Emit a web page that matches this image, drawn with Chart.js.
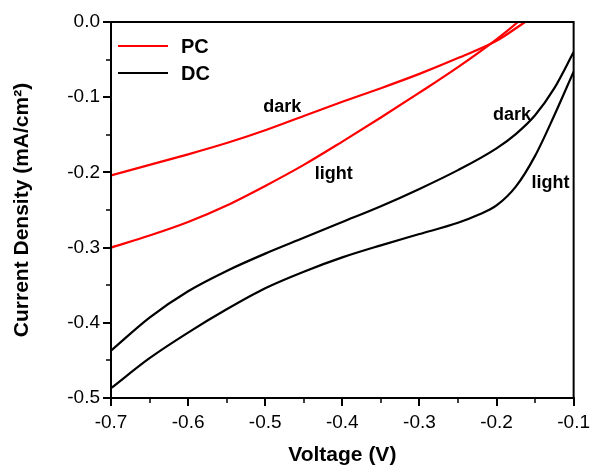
<!DOCTYPE html>
<html>
<head>
<meta charset="utf-8">
<script src="https://cdn.jsdelivr.net/npm/chart.js@4.4.1/dist/chart.umd.min.js"></script>
<style>
  html, body { margin: 0; padding: 0; background: #fff; }
  #wrap { width: 595px; height: 468px; }
</style>
</head>
<body>
<div id="wrap"><canvas id="jv"></canvas></div>
<script>
// voltage (V) and current density (mA/cm2)
var pcDarkV  = [-0.7, -0.65, -0.6, -0.55, -0.5, -0.45, -0.4, -0.35, -0.3, -0.25, -0.2, -0.163];
var pcDarkI  = [-0.204, -0.190, -0.176, -0.161, -0.144, -0.125, -0.106, -0.088, -0.069, -0.048, -0.025, 0.0];
var pcLightV = [-0.7, -0.65, -0.6, -0.55, -0.5, -0.45, -0.4, -0.35, -0.3, -0.25, -0.2, -0.172];
var pcLightI = [-0.300, -0.284, -0.266, -0.244, -0.218, -0.190, -0.159, -0.127, -0.094, -0.060, -0.023, 0.0];
var dcDarkV  = [-0.7, -0.65, -0.6, -0.55, -0.5, -0.45, -0.4, -0.35, -0.3, -0.25, -0.2, -0.175, -0.15, -0.125, -0.1];
var dcDarkI  = [-0.437, -0.393, -0.358, -0.331, -0.308, -0.287, -0.266, -0.245, -0.222, -0.197, -0.168, -0.149, -0.124, -0.088, -0.040];
var dcLightV = [-0.7, -0.65, -0.6, -0.55, -0.5, -0.45, -0.4, -0.35, -0.3, -0.25, -0.225, -0.2, -0.175, -0.15, -0.125, -0.1];
var dcLightI = [-0.487, -0.447, -0.413, -0.382, -0.354, -0.332, -0.313, -0.297, -0.282, -0.267, -0.257, -0.244, -0.219, -0.178, -0.124, -0.066];

var legendNames = ["PC", "DC"];
var curveLabels = [   // text, voltage, current
  ["dark", -0.478, -0.113],
  ["light", -0.411, -0.202],
  ["dark", -0.180, -0.124],
  ["light", -0.130, -0.214]
];

function pts(xs, ys) {
  return xs.map(function (x, i) { return { x: x, y: ys[i] }; });
}

function line(label, xs, ys, color) {
  return {
    label: label,
    data: pts(xs, ys),
    borderColor: color,
    borderWidth: 2.2,
    pointRadius: 0,
    cubicInterpolationMode: 'monotone',
    fill: false
  };
}

// frame, minor ticks, legend and curve labels
var decor = {
  id: 'decor',
  afterDraw: function (chart) {
    var c = chart.ctx, a = chart.chartArea;
    var xs = chart.scales.x, ys = chart.scales.y;
    c.save();
    c.strokeStyle = '#000';
    c.lineWidth = 2;
    c.strokeRect(a.left, a.top, a.right - a.left, a.bottom - a.top);

    c.lineWidth = 1.5;
    c.beginPath();
    for (var v = -0.65; v < -0.1; v += 0.1) {
      var px = Math.round(xs.getPixelForValue(v));
      c.moveTo(px, a.bottom);
      c.lineTo(px, a.bottom + 5);
    }
    for (var w = -0.45; w < 0; w += 0.1) {
      var py = Math.round(ys.getPixelForValue(w));
      c.moveTo(a.left, py);
      c.lineTo(a.left - 5, py);
    }
    c.stroke();

    // legend
    var colors = ['#ff0000', '#000000'];
    c.font = 'bold 20px "Liberation Sans", Arial, sans-serif';
    c.textBaseline = 'middle';
    c.textAlign = 'left';
    for (var i = 0; i < legendNames.length; i++) {
      var ly = 46 + i * 27;
      c.strokeStyle = colors[i];
      c.lineWidth = 2.2;
      c.beginPath();
      c.moveTo(118, ly);
      c.lineTo(168, ly);
      c.stroke();
      c.fillStyle = '#000';
      c.fillText(legendNames[i], 181, ly + 1);
    }

    // curve labels
    c.font = 'bold 18px "Liberation Sans", Arial, sans-serif';
    c.textAlign = 'center';
    curveLabels.forEach(function (l) {
      c.fillText(l[0], xs.getPixelForValue(l[1]), ys.getPixelForValue(l[2]));
    });
    c.restore();
  }
};

var tickFont = { family: '"Liberation Sans", Arial, sans-serif', size: 19 };

var ctx = document.getElementById('jv').getContext('2d');
var jvChart = new Chart(ctx, {
  type: 'line',
  data: {
    datasets: [
      line('PC dark', pcDarkV, pcDarkI, '#ff0000'),
      line('PC light', pcLightV, pcLightI, '#ff0000'),
      line('DC dark', dcDarkV, dcDarkI, '#000000'),
      line('DC light', dcLightV, dcLightI, '#000000')
    ]
  },
  options: {
    responsive: true,
    maintainAspectRatio: false,
    animation: false,
    layout: { padding: { left: 0, right: 19, top: 22, bottom: 0 } },
    plugins: { legend: { display: false }, tooltip: { enabled: false } },
    scales: {
      x: {
        type: 'linear',
        min: -0.7,
        max: -0.1,
        afterFit: function (s) { s.height = 70; },
        ticks: {
          stepSize: 0.1,
          color: '#000',
          font: tickFont,
          padding: 5,
          maxRotation: 0,
          callback: function (v) { return v.toFixed(1); }
        },
        grid: { drawOnChartArea: false, color: '#000', lineWidth: 2, tickLength: 8 },
        border: { color: '#000', width: 2 },
        title: {
          display: true, text: 'Voltage (V)', color: '#000', padding: 0,
          font: { family: '"Liberation Sans", Arial, sans-serif', size: 21, weight: 'bold' }
        }
      },
      y: {
        min: -0.5,
        max: 0,
        afterFit: function (s) { s.width = 111; },
        ticks: {
          stepSize: 0.1,
          color: '#000',
          font: tickFont,
          padding: 3,
          callback: function (v) { return v.toFixed(1); }
        },
        grid: { drawOnChartArea: false, color: '#000', lineWidth: 2, tickLength: 8 },
        border: { color: '#000', width: 2 },
        title: {
          display: true, text: 'Current Density (mA/cm²)', color: '#000', padding: { top: 10, bottom: 0 },
          font: { family: '"Liberation Sans", Arial, sans-serif', size: 21, weight: 'bold' }
        }
      }
    }
  },
  plugins: [decor]
});
</script>
</body>
</html>
